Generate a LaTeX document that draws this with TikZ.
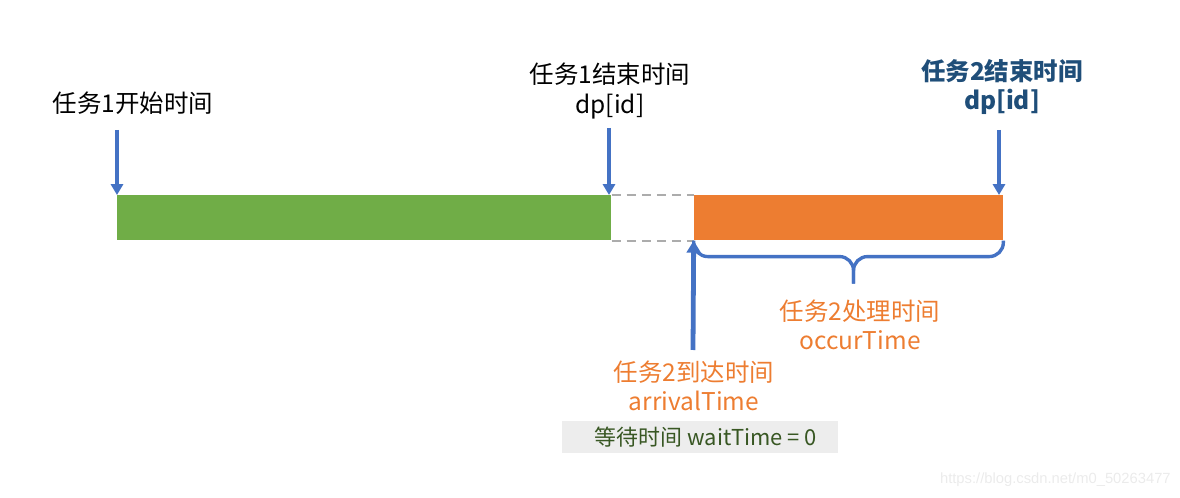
\documentclass[tikz,border=0pt]{standalone}
\usepackage{fontspec}
\setmainfont{Noto Sans CJK SC}
\newfontfamily\markfont{Liberation Sans}
\usetikzlibrary{positioning,arrows.meta,calc}
\definecolor{taskGreen}{HTML}{70AD47}
\definecolor{taskOrange}{HTML}{ED7D31}
\definecolor{arrowBlue}{HTML}{4472C4}
\definecolor{titleBlue}{HTML}{1F4E79}
\definecolor{waitGreen}{HTML}{385723}
\tikzset{bar/.style={inner sep=0pt, minimum height=1.125cm, anchor=north west},
    timeLabel/.style={align=center, font=\fontsize{17.4}{21}\selectfont, inner sep=0pt},
    timeArrow/.style={draw=arrowBlue, line width=2.6pt, -{Triangle[width=0.3cm,length=0.27cm]}},
    gapLine/.style={draw=gray!65, line width=1.4pt, dash pattern=on 6.4pt off 4.3pt},
    }

\begin{document}
\begin{tikzpicture}[x=0.025cm, y=-0.025cm]
	\useasboundingbox (0,0) rectangle (1180,498);
	% the two tasks
	\node[bar, fill=taskGreen, minimum width=12.35cm] (taskOne) at (117,195) {};
	\node[bar, fill=taskOrange, minimum width=7.725cm, right=2.05cm of taskOne] (taskTwo) {};
	\draw[gapLine] (taskOne.north east) -- (taskTwo.north west);
	\draw[gapLine] (taskOne.south east) -- (taskTwo.south west);

	\node[timeLabel] (startText) at (133,103) {任务1开始时间};
	\node[timeLabel] (endOneText) at (610,91) {任务1结束时间\\dp[id]};
	\node[timeLabel, text=titleBlue, font=\fontsize{17.4}{21}\selectfont\bfseries] (endTwoText) at (1002,87) {任务2结束时间\\dp[id]};
	\coordinate (startTop) at (117,130);
	\coordinate (endOneTop) at (609,128);
	\coordinate (endTwoTop) at (999,130);
	\draw[timeArrow] (startTop) -- (taskOne.north west);
	\draw[timeArrow] (endOneTop) -- (endOneTop |- taskOne.north);
	\draw[timeArrow] (endTwoTop) -- (endTwoTop |- taskTwo.north);

	% arrival of task 2
	\node[timeLabel, text=taskOrange] (arriveText) at (694,386) {任务2到达时间\\arrivalTime};
	\coordinate (arriveFoot) at (693,350);
	\draw[timeArrow, line width=3.4pt, -{Triangle[width=0.34cm,length=0.3cm]}] (arriveFoot) -- (taskTwo.south west);

	% brace under task 2
	\coordinate (braceTip) at ($(taskTwo.south)+(5,43)$);
	\draw[draw=arrowBlue, line width=2.4pt, rounded corners=0.35cm] (taskTwo.south west) |- ($(braceTip)+(0,-27)$) -- (braceTip);
	\draw[draw=arrowBlue, line width=2.4pt, rounded corners=0.35cm] (taskTwo.south east) |- ($(braceTip)+(0,-27)$) -- (braceTip);
	\node[timeLabel, text=taskOrange] (occurText) at (860,325) {任务2处理时间\\occurTime};

	\node[fill=black!7, minimum width=6.875cm, minimum height=0.775cm, inner sep=0pt, text=waitGreen, font=\fontsize{15.6}{18}\selectfont] (waitBox) at (700,437) {\hspace{0.3cm}等待时间 waitTime = 0};

	\node[text=black!8, font=\markfont\fontsize{10.5}{12}\selectfont, anchor=east, inner sep=0pt] (markText) at (1171,480) {https://blog.csdn.net/m0\_50263477};
\end{tikzpicture}
\end{document}
